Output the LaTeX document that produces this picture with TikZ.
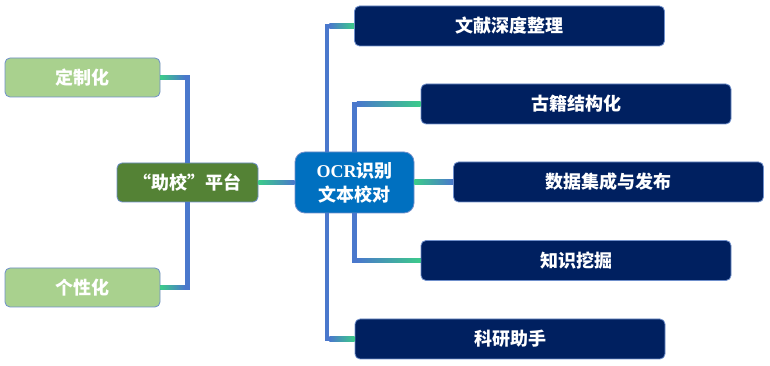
\documentclass[tikz,border=0pt]{standalone}
\usepackage{fontspec}
\setmainfont{Liberation Serif}
\newfontfamily\cjk{Noto Sans CJK SC}
\usetikzlibrary{calc}

\definecolor{lightgreen}{HTML}{A9D18E}
\definecolor{darkgreen}{HTML}{548235}
\definecolor{ocrblue}{HTML}{0070C0}
\definecolor{navy}{HTML}{002060}
\definecolor{lineblue}{HTML}{4A78CC}
\definecolor{linegreen}{HTML}{3CCB8A}
\definecolor{edge}{HTML}{6F8FCB}

\begin{document}
\begin{tikzpicture}[x=1pt, y=1pt,
  box/.style={draw=edge, line width=0.8pt, rounded corners=5pt, text=white, inner sep=0pt,
    align=center, font=\fontsize{18}{24}\selectfont\bfseries\cjk},
  side/.style={box, fill=lightgreen, minimum width=155pt, minimum height=39pt},
  task/.style={box, fill=navy, minimum width=310pt, minimum height=40pt},
  link/.style={draw=lineblue, line width=4.6pt}]
  \fill[white] (0,0) rectangle (770,366);
  \useasboundingbox (0,0) rectangle (770,366);

  % left part
  \node[side] (dingzhi) at (82.5,288.5) {定制化};
  \node[side] (gexing) at (82.5,78.5) {个性化};
  \node[box, fill=darkgreen, minimum width=141pt, minimum height=39pt] (zhuxiao) at (187.5,183.5) {“助校”平台};
  \node[box, fill=ocrblue, rounded corners=10pt, minimum width=119pt, minimum height=61pt] (ocr) at (354.5,183.5)
    {{\rmfamily\bfseries OCR}识别\\文本校对};

  % right part
  \node[task] (wenxian) at (509.5,340) {文献深度整理};
  \node[task] (guji) at (576,262) {古籍结构化};
  \node[task] (shuju) at (608.5,184) {数据集成与发布};
  \node[task] (zhishi) at (576,105.5) {知识挖掘};
  \node[task] (keyan) at (510,27) {科研助手};

  % links to the left
  \foreach \side/\child in {north/dingzhi, south/gexing} {
    \draw[link] (zhuxiao.\side) |- (\child.east);
    \shade[left color=linegreen, right color=lineblue]
      ($(\child.east)+(0,-2.3)$) rectangle ($(zhuxiao.\side |- \child.east)+(-2.3,2.3)$);
  }

  % links to the right
  \foreach \side/\dx/\child in {north/-27.5/wenxian, north/0/guji, south/0/zhishi, south/-27.5/keyan} {
    \coordinate (e) at ($(ocr.\side)+(\dx,0)$);
    \draw[link] (e) |- (\child.west);
    \shade[left color=lineblue, right color=linegreen]
      ($(e |- \child.west)+(2.3,-2.3)$) rectangle ($(\child.west)+(0,2.3)$);
  }

  % straight links
  \shade[left color=linegreen, right color=lineblue] ($(zhuxiao.east)+(0,-2.3)$) rectangle ($(ocr.west)+(0,2.3)$);
  \shade[left color=linegreen, right color=lineblue] ($(ocr.east)+(0,-2.3)$) rectangle ($(shuju.west)+(0,2.3)$);
\end{tikzpicture}
\end{document}
